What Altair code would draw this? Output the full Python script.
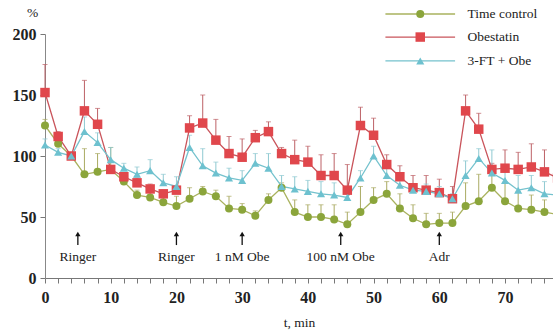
import altair as alt
import pandas as pd

# ---- data ----
t = list(range(0, 80, 2))
time_control = [125, 110, 100, 85, 87, 89, 79, 68, 66, 62, 59, 65, 71, 67, 57, 56, 51, 64, 74, 54,
                50, 50, 48, 44, 54, 64, 69, 57, 49, 44, 45, 45, 59, 63, 74, 63, 57, 56, 54, 52]
obestatin = [152, 116, 100, 137, 126, 89, 83, 78, 73, 69, 72, 123, 127, 113, 102, 99, 115, 120, 102, 97,
             95, 84, 84, 72, 125, 117, 93, 83, 74, 72, 70, 65, 137, 122, 89, 90, 89, 91, 87, 82]
ft_obe = [109, 103, 100, 120, 111, 97, 90, 85, 88, 78, 75, 107, 92, 86, 82, 80, 94, 90, 75, 73,
          71, 69, 68, 66, 82, 100, 84, 76, 72, 71, 69, 65, 84, 98, 86, 80, 72, 74, 69, 68]
err_tc = [5, 3, 0, 21, 15, 18, 4, 4, 5, 4, 8, 9, 4, 5, 10, 5, 4, 5, 4, 10,
          10, 10, 12, 10, 21, 10, 10, 12, 11, 9, 8, 9, 19, 22, 11, 15, 14, 12, 10, 10]
err_ob = [23, 4, 0, 25, 13, 3, 3, 4, 4, 3, 3, 10, 23, 17, 14, 15, 6, 8, 5, 16,
          13, 17, 18, 21, 15, 14, 8, 9, 10, 12, 11, 10, 13, 13, 5, 15, 14, 19, 18, 12]
err_ft = [5, 3, 0, 12, 8, 10, 4, 6, 9, 7, 8, 10, 14, 9, 8, 8, 8, 12, 9, 10,
          9, 10, 10, 8, 6, 8, 8, 8, 5, 6, 6, 4, 12, 8, 19, 8, 12, 10, 10, 8]

series_names = ["Time control", "Obestatin", "3-FT + Obe"]
series_vals = [time_control, obestatin, ft_obe]
series_errs = [err_tc, err_ob, err_ft]
shapes = ["circle", "square", "triangle-up"]
sizes = [64, 90, 66]
marker_colors = ["#8BA53B", "#E0474C", "#6DC1CF"]
line_colors = ["#A9B25E", "#C9545B", "#74C2CD"]
err_colors = ["#A9AA62", "#BD6166", "#8FC9D1"]

events_t = [5, 20, 30, 45, 60]
events_label = ["Ringer", "Ringer", "1 nM Obe", "100 nM Obe", "Adr"]

legend_y = [216.4, 197.5, 177.9]

FONT = "Liberation Serif, Times New Roman, Times, serif"

xscale = alt.Scale(domain=[0, 77.3], nice=False, zero=False)
yscale = alt.Scale(domain=[0, 200], nice=False)

x_axis = alt.Axis(values=t, labelExpr="datum.value % 10 === 0 ? datum.label : ''",
                  title="t,  min", titleFont=FONT, titleFontSize=13.5, titleFontWeight="normal",
                  titleColor="#222", titlePadding=10,
                  labelFont=FONT, labelFontSize=16, labelFontWeight="bold", labelColor="#222",
                  labelPadding=6, tickSize=5, ticks=True, tickColor="#777", domainColor="#777",
                  grid=False, labelFlush=False, labelOverlap=False)
y_axis = alt.Axis(values=[0, 50, 100, 150, 200], title="%", titleAngle=0,
                  titleX=-13, titleY=-22, titleAlign="center", titleBaseline="middle",
                  titleFont=FONT, titleFontSize=13.5, titleFontWeight="normal", titleColor="#222",
                  labelFont=FONT, labelFontSize=16, labelFontWeight="bold", labelColor="#222",
                  labelPadding=4, tickSize=5, ticks=True, tickColor="#777", domainColor="#888",
                  grid=False, labelOverlap=False)


def X(field):
    return alt.X(field, type="quantitative", scale=xscale, axis=x_axis)


def Y(field):
    return alt.Y(field, type="quantitative", scale=yscale, axis=y_axis)


layers = []

# error bars first
for name, vals, errs, ec in zip(series_names, series_vals, series_errs, err_colors):
    df = pd.DataFrame({"t": t, "v": vals, "err": errs})
    df["top"] = df["v"] + df["err"]
    df = df[df["err"] > 0]
    base = alt.Chart(df)
    layers.append(base.mark_rule(color=ec, strokeWidth=1).encode(x=X("t"), y=Y("v"), y2="top:Q"))
    layers.append(base.mark_tick(color=ec, orient="horizontal", size=5, thickness=1).encode(
        x=X("t"), y=Y("top")))

# lines
for name, vals, lc in zip(series_names, series_vals, line_colors):
    df = pd.DataFrame({"t": t, "v": vals})
    layers.append(alt.Chart(df).mark_line(color=lc, strokeWidth=1.3).encode(x=X("t"), y=Y("v")))

# points
for name, vals, mc, sh, sz in zip(series_names, series_vals, marker_colors, shapes, sizes):
    df = pd.DataFrame({"t": t, "v": vals})
    layers.append(alt.Chart(df).mark_point(color=mc, filled=True, opacity=1, shape=sh, size=sz,
                                           strokeWidth=0).encode(x=X("t"), y=Y("v")))

# event arrows
ev = pd.DataFrame({"t": events_t, "label": events_label, "y0": 27, "y1": 36, "ytxt": 17})
layers.append(alt.Chart(ev).mark_rule(color="#111", strokeWidth=1.3).encode(
    x=X("t"), y=Y("y0"), y2="y1:Q"))
layers.append(alt.Chart(ev).mark_point(shape="triangle-up", filled=True, color="#111", size=28,
                                       opacity=1, strokeWidth=0).encode(x=X("t"), y=Y("y1")))
layers.append(alt.Chart(ev).mark_text(font=FONT, fontSize=13.5, color="#222", baseline="middle").encode(
    x=X("t"), y=Y("ytxt"), text="label:N"))

# legend
for name, ly, lc, mc, sh, sz in zip(series_names, legend_y, line_colors, marker_colors, shapes, sizes):
    ldf = pd.DataFrame({"x0": [51.8], "x1": [62.4], "xm": [57.1], "xt": [64.3], "y": [ly], "name": [name]})
    lb = alt.Chart(ldf)
    layers.append(lb.mark_rule(color=lc, strokeWidth=1.3).encode(x=X("x0"), x2="x1:Q", y=Y("y")))
    layers.append(lb.mark_point(color=mc, filled=True, opacity=1, shape=sh, size=sz, strokeWidth=0).encode(
        x=X("xm"), y=Y("y")))
    layers.append(lb.mark_text(font=FONT, fontSize=13.5, color="#222", align="left", baseline="middle").encode(
        x=X("xt"), y=Y("y"), text="name:N"))

chart = alt.layer(*layers).properties(
    width=508, height=244,
    padding={"left": 45, "top": 34, "right": 0, "bottom": 53},
    autosize=alt.AutoSizeParams(type="none"),
    background="white",
).configure_view(stroke=None)

chart.save("out.html", embed_options={"renderer": "svg", "actions": False})
